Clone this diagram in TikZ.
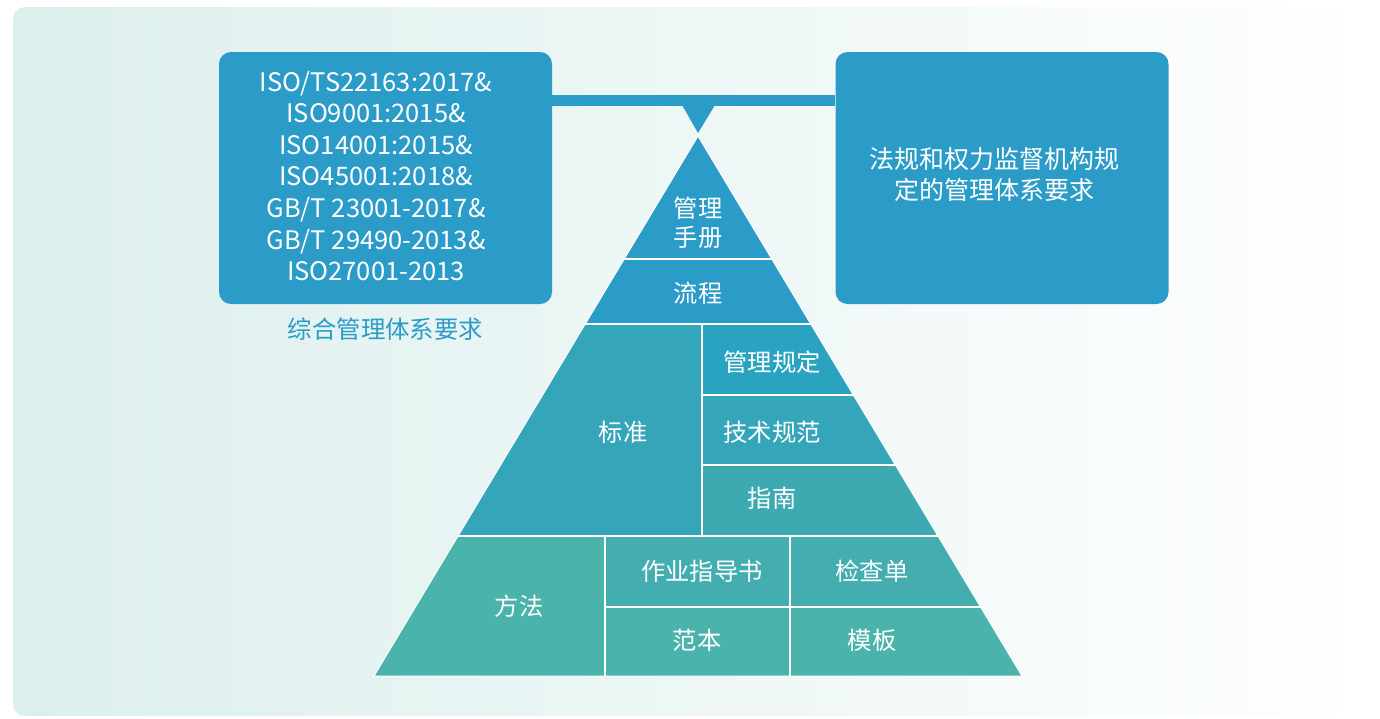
\documentclass[tikz,border=0pt]{standalone}
\usepackage{fontspec}
\setmainfont{Noto Sans CJK SC}
\usetikzlibrary{positioning}
\definecolor{boxblue}{HTML}{2B9BC8}
\definecolor{bgteal}{HTML}{DCEFED}
\definecolor{stdleft}{HTML}{35A5B9}
\definecolor{stdmgmt}{HTML}{29A3C0}
\definecolor{stdtech}{HTML}{35A5B9}
\definecolor{stdguide}{HTML}{3DAAB2}
\definecolor{methleft}{HTML}{4AB4AC}
\definecolor{methtop}{HTML}{44ADB0}
\definecolor{methbot}{HTML}{4AB4AC}

\begin{document}
\begin{tikzpicture}[x=1pt,y=-1pt,
  box/.style={fill=boxblue,rounded corners=12pt,minimum width=333pt,minimum height=252pt,inner sep=0pt},
  txt/.style={text=white,font=\fontsize{25.5}{31.6}\selectfont,align=center,inner sep=0pt},
  lyr/.style={text=white,font=\fontsize{24.3}{29}\selectfont,align=center,inner sep=0pt},
  sep/.style={white,line width=2pt}]
\useasboundingbox (0,0) rectangle (1380,718);
\shade[left color=bgteal,right color=white,rounded corners=12pt] (13,7) rectangle (1380,716);
% the two requirement boxes and the bar between them
\node[box] (lbox) at (385.5,178) {};
\node[box] (rbox) at (1002,178) {};
\node[txt] (ltext) at (376,176) {ISO/TS22163:2017\&\\ISO9001:2015\&\\ISO14001:2015\&\\ISO45001:2018\&\\GB/T 23001-2017\&\\GB/T 29490-2013\&\\ISO27001-2013};
\node[txt,font=\fontsize{25}{31}\selectfont] (rtext) at (994,175) {法规和权力监督机构规\\定的管理体系要求};
\node[inner sep=0pt,below=13pt of lbox,text=boxblue,font=\fontsize{24.4}{28}\selectfont] (lcap) {综合管理体系要求};
\coordinate (bar) at (698,100.5);
\draw[boxblue,line width=11pt] (lbox.east |- bar) -- (rbox.west |- bar);
\fill[boxblue] (682,105) -- (715,105) -- (698,133) -- cycle;
% pyramid
\coordinate (apex) at (698,136);
\coordinate (bl) at (374,676);
\coordinate (br) at (1022,676);
\begin{scope}
\clip (apex) -- (bl) -- (br) -- cycle;
\fill[boxblue] (360,130) rectangle (1040,324);
\fill[stdleft] (360,324) rectangle (702,536);
\fill[stdmgmt] (702,324) rectangle (1040,394.5);
\fill[stdtech] (702,394.5) rectangle (1040,465);
\fill[stdguide] (702,465) rectangle (1040,536);
\fill[methleft] (360,536) rectangle (605,680);
\fill[methtop] (605,536) rectangle (1040,606.5);
\fill[methbot] (605,606.5) rectangle (1040,680);
\foreach \y in {259,324,536} \draw[sep] (360,\y) -- (1040,\y);
\foreach \y in {394.5,465} \draw[sep] (702,\y) -- (1040,\y);
\draw[sep] (702,324) -- (702,536);
\draw[sep] (605,536) -- (605,680);
\draw[sep] (790,536) -- (790,680);
\draw[sep] (605,606.5) -- (1040,606.5);
\end{scope}
\draw[white,line width=1pt] (apex) -- (bl) -- (br) -- cycle;
\node[lyr] (manual) at (698,222.5) {管理\\手册};
\node[lyr] (process) at (698,293) {流程};
\node[lyr] (standard) at (623,432) {标准};
\node[lyr] (rules) at (772,362) {管理规定};
\node[lyr] (techspec) at (772,432) {技术规范};
\node[lyr] (guide) at (772,498) {指南};
\node[lyr] (method) at (519,606) {方法};
\node[lyr] (instr) at (702,571) {作业指导书};
\node[lyr] (check) at (872,571) {检查单};
\node[lyr] (sample) at (697,640) {范本};
\node[lyr] (templ) at (872,640) {模板};
\end{tikzpicture}
\end{document}
